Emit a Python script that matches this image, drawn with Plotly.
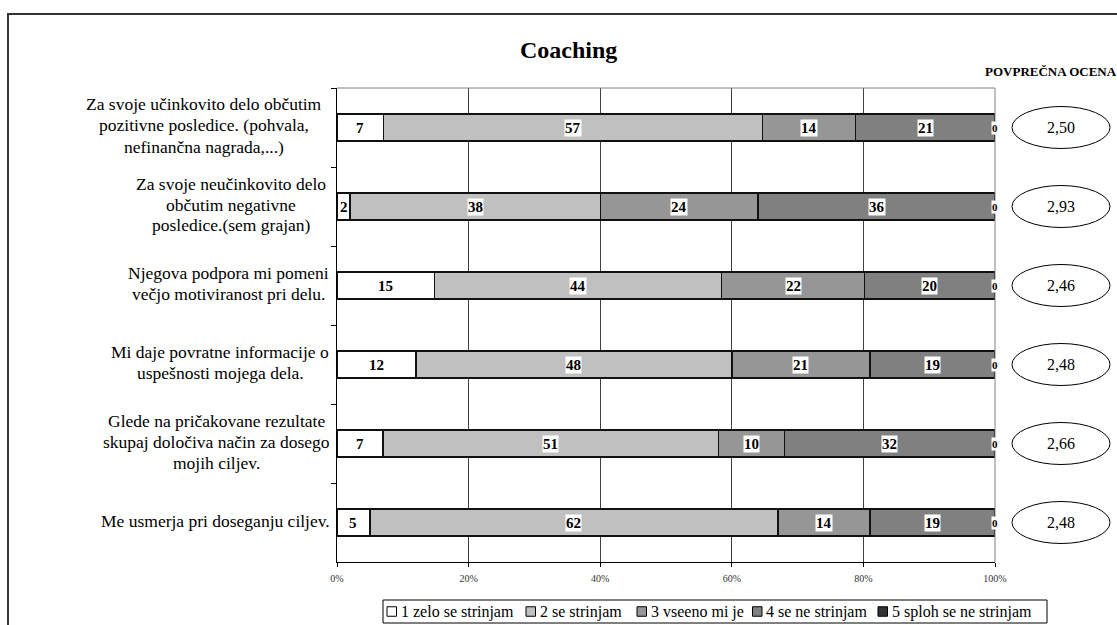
import plotly.graph_objects as go

# ---- data -------------------------------------------------------------
categories = [
    "Za svoje učinkovito delo občutim<br>pozitivne posledice. (pohvala,<br>nefinančna nagrada,...)",
    "Za svoje neučinkovito delo<br>občutim negativne<br>posledice.(sem grajan)",
    "Njegova podpora mi pomeni<br>večjo motiviranost pri delu.",
    "Mi daje povratne informacije o<br>uspešnosti mojega dela.",
    "Glede na pričakovane rezultate<br>skupaj določiva način za dosego<br>mojih ciljev.",
    "Me usmerja pri doseganju ciljev.",
]
zelo_se_strinjam = [7, 2, 15, 12, 7, 5]
se_strinjam = [57, 38, 44, 48, 51, 62]
vseeno_mi_je = [14, 24, 22, 21, 10, 14]
se_ne_strinjam = [21, 36, 20, 19, 32, 19]
sploh_se_ne_strinjam = [0, 0, 0, 0, 0, 0]
povprecna_ocena = ["2,50", "2,93", "2,46", "2,48", "2,66", "2,48"]
series_names = ["1 zelo se strinjam", "2 se strinjam", "3 vseeno mi je",
                "4 se ne strinjam", "5 sploh se ne strinjam"]
x_tick_values = [0, 20, 40, 60, 80, 100]
x_tick_labels = ["0%", "20%", "40%", "60%", "80%", "100%"]

series = [zelo_se_strinjam, se_strinjam, vseeno_mi_je, se_ne_strinjam, sploh_se_ne_strinjam]

# ---- styling ------------------------------------------------------------
FONT = "Liberation Serif"
fills = ["#ffffff", "#c0c0c0", "#969696", "#808080", "#333333"]
W, H = 1117, 625
ML, MR, MT, MB = 337, 122, 88, 63
PW, PH = W - ML - MR, H - MT - MB


def px_x(x):
    return (x - ML) / PW


def px_y(y):
    return (H - MB - y) / PH


n_rows = len(categories)
row_px = PH / n_rows

fig = go.Figure()
for name, vals, col in zip(series_names, series, fills):
    fig.add_trace(go.Bar(
        y=categories, x=vals, name=name, orientation="h",
        marker=dict(color=col, line=dict(color="#111111", width=1.4)),
        hoverinfo="skip", showlegend=False,
    ))

annotations = []
shapes = []

# value labels centred in each (normalised) segment
for i, cat in enumerate(categories):
    total = sum(s[i] for s in series)
    cum = 0
    for s in series:
        v = s[i]
        centre = (cum + v / 2) / total * 100
        cum += v
        annotations.append(dict(
            x=centre, y=cat, xref="x", yref="y", text=f"<b>{v}</b>",
            showarrow=False, bgcolor="white", borderpad=0,
            xanchor="center", yanchor="middle",
            font=dict(family=FONT, size=15 if v > 0 else 11, color="black"),
        ))

# category labels: one annotation per line, lines centred within each block
label_centre_px = [204, 231, 228, 220, 216, 215]
LINE_PX = 21
for i, cat in enumerate(categories):
    lines = cat.split("<br>")
    cy = MT + row_px * (i + 0.5) - 2
    for k, line in enumerate(lines):
        ly = cy + LINE_PX * (k - (len(lines) - 1) / 2)
        annotations.append(dict(
            x=px_x(label_centre_px[i]), y=px_y(ly), xref="paper", yref="paper",
            text=line, showarrow=False, xanchor="center", yanchor="middle",
            font=dict(family=FONT, size=17.5, color="black"),
        ))

# average score column
for i, (cat, score) in enumerate(zip(categories, povprecna_ocena)):
    cy = MT + row_px * (i + 0.5)
    shapes.append(dict(
        type="circle", xref="paper", yref="paper",
        x0=px_x(1012), x1=px_x(1110), y0=px_y(cy + 21), y1=px_y(cy - 21),
        line=dict(color="black", width=1), fillcolor="white",
    ))
    annotations.append(dict(
        x=px_x(1061), y=cat, xref="paper", yref="y", text=score,
        showarrow=False, xanchor="center", yanchor="middle",
        font=dict(family=FONT, size=16, color="black"),
    ))

annotations.append(dict(
    x=px_x(983), y=px_y(72), xref="paper", yref="paper",
    text="<b>POVPREČNA OCENA</b>", showarrow=False,
    xanchor="left", yanchor="middle",
    font=dict(family=FONT, size=13, color="black"),
))
annotations.append(dict(
    x=px_x(568), y=px_y(50), xref="paper", yref="paper",
    text="<b>Coaching</b>", showarrow=False, xanchor="center", yanchor="middle",
    font=dict(family=FONT, size=24, color="black"),
))

# legend drawn as a boxed row of swatches
LEG_TOP, LEG_BOTTOM = 600, 623
leg_mid = (LEG_TOP + LEG_BOTTOM) / 2
swatch_left_px = [387, 526, 637, 752.5, 878]
SW = 9.5
shapes.append(dict(type="rect", xref="paper", yref="paper",
                   x0=px_x(383), x1=px_x(1047), y0=px_y(LEG_BOTTOM), y1=px_y(LEG_TOP),
                   line=dict(color="black", width=1), fillcolor="white"))
for name, col, sx in zip(series_names, fills, swatch_left_px):
    shapes.append(dict(type="rect", xref="paper", yref="paper",
                       x0=px_x(sx), x1=px_x(sx + SW),
                       y0=px_y(leg_mid + SW / 2), y1=px_y(leg_mid - SW / 2),
                       line=dict(color="black", width=1), fillcolor=col))
    annotations.append(dict(
        x=px_x(sx + SW + 2), y=px_y(leg_mid), xref="paper", yref="paper",
        text=name, showarrow=False, xanchor="left", yanchor="middle",
        font=dict(family=FONT, size=16, color="black"),
    ))

# plot-area top and right edges
shapes.append(dict(type="line", xref="paper", yref="paper", x0=0, x1=1, y0=1, y1=1,
                   line=dict(color="#808080", width=1)))
shapes.append(dict(type="line", xref="paper", yref="paper", x0=1, x1=1, y0=0, y1=1,
                   line=dict(color="#808080", width=1)))
# chart frame
shapes.append(dict(type="rect", xref="paper", yref="paper",
                   x0=px_x(8), x1=px_x(1140), y0=px_y(700), y1=px_y(14),
                   line=dict(color="#333333", width=2), layer="below"))

fig.update_layout(
    width=W, height=H,
    margin=dict(l=ML, r=MR, t=MT, b=MB, pad=0, autoexpand=False),
    paper_bgcolor="white", plot_bgcolor="white",
    barmode="stack", barnorm="percent", bargap=0.66,
    font=dict(family=FONT, color="black"),
    xaxis=dict(
        range=[0, 100], tickvals=x_tick_values, ticktext=x_tick_labels,
        ticks="outside", ticklen=4, tickcolor="black", ticklabelstandoff=3,
        showline=True, linecolor="black", linewidth=1,
        showgrid=True, gridcolor="#404040", gridwidth=1, zeroline=False,
        tickfont=dict(family=FONT, size=10, color="#333333"),
        fixedrange=True,
    ),
    yaxis=dict(
        type="category", autorange="reversed", showticklabels=False,
        ticks="outside", tickson="boundaries", ticklen=5, tickcolor="black",
        showline=True, linecolor="black", linewidth=1, showgrid=False,
        fixedrange=True,
    ),
    annotations=annotations,
    shapes=shapes,
    showlegend=False,
)

fig.write_html("out.html")
